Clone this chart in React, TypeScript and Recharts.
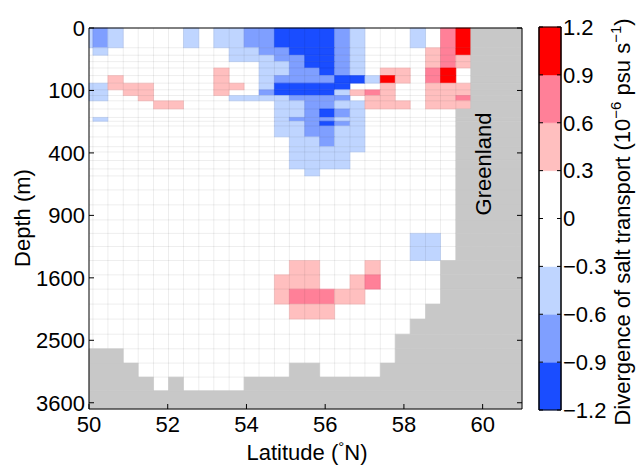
import React from "react";
import { ComposedChart, XAxis, YAxis, ReferenceArea, ReferenceLine } from "recharts";

// cell edges of the section (latitude, °N) and model levels (depth, m)
const latEdges = [
  50, 50.1, 50.48, 50.87, 51.25, 51.64, 52.02, 52.4, 52.79, 53.17, 53.56, 53.94, 54.32, 54.71, 55.09,
  55.48, 55.86, 56.24, 56.63, 57.01, 57.4, 57.78, 58.16, 58.55, 58.93, 59.32, 59.7, 60.08, 60.47, 60.85, 61,
];
const depthEdges = [
  0, 10, 19, 29, 41, 58, 78, 98, 117, 136, 168, 205, 223, 246, 304, 361, 394, 450, 509, 561, 672, 802,
  944, 1081, 1224, 1386, 1562, 1748, 1954, 2172, 2403, 2638, 2878, 3124, 3374, 3721,
];

// one string per depth level, one character per latitude cell
// c/b/a = negative classes, . = near zero, 1/2/3 = positive classes, # = land
const sectionRows = [
  "aba....a.aabbccccba...a.23####",
  ".a........aabbcccba....123####",
  "..........aaabbccba....121####",
  "............aabccba....121####",
  ".........1..aabbcba.11.23.####",
  "..1......1..abbbbcca31.23.####",
  "aa111....11.accccc..1..111####",
  "aa.11....1..bcccca121..111####",
  "aa..1.....aaaabbbb.11..112####",
  ".....11......aabbaa111.111####",
  ".............aabcba......#####",
  ".a...........abbbaa......#####",
  ".............aabcba......#####",
  ".............aabbaa......#####",
  "..............aabaa......#####",
  "..............aaaaa......#####",
  "..............aaaa.......#####",
  "..............aaaa.......#####",
  "...............a.........#####",
  ".........................#####",
  ".........................#####",
  ".........................#####",
  ".........................#####",
  "......................aa.#####",
  "......................aa.#####",
  "..............11...1....######",
  ".............111..12....######",
  ".............122211.....######",
  "..............111......#######",
  "......................########",
  ".....................#########",
  "###..................#########",
  "####..........##....##########",
  "#####.#....###################",
  "##############################",
];

const codeValues: Record<string, number> = {
  c: -1.05,
  b: -0.75,
  a: -0.45,
  ".": 0,
  "1": 0.45,
  "2": 0.75,
  "3": 1.05,
};

const cbEdges = [-1.2, -0.9, -0.6, -0.3, 0.3, 0.6, 0.9, 1.2];
const cbColors = ["#1a4dff", "#7f9fff", "#bfd5ff", "#ffffff", "#ffbfbf", "#ff8098", "#ff0000"];
const cbTicks = [-1.2, -0.9, -0.6, -0.3, 0, 0.3, 0.6, 0.9, 1.2];
const latTicks = [50, 52, 54, 56, 58, 60];
const depthTicks = [0, 100, 400, 900, 1600, 2500, 3600];

const LAND = "#c8c8c8";
const FONT = "'Liberation Sans', Arial, Helvetica, sans-serif";

const colorFor = (v: number) => {
  for (let i = 0; i < cbColors.length; i++) {
    if (v >= cbEdges[i] && v < cbEdges[i + 1]) return cbColors[i];
  }
  return v < 0 ? cbColors[0] : cbColors[cbColors.length - 1];
};

type Run = { x1: number; x2: number; y1: number; y2: number; code: string };
const runs: Run[] = [];
sectionRows.forEach((row, r) => {
  let j = 0;
  while (j < row.length) {
    let k = j;
    while (k + 1 < row.length && row[k + 1] === row[j]) k++;
    runs.push({ x1: latEdges[j], x2: latEdges[k + 1], y1: depthEdges[r], y2: depthEdges[r + 1], code: row[j] });
    j = k + 1;
  }
});
const waterRuns = runs.filter((c) => c.code !== "." && c.code !== "#");
const landRuns = runs.filter((c) => c.code === "#");

const tickStyle = { fontSize: 22, fill: "#000", fontFamily: FONT };
const cbLabel = (v: number) => (v === 0 ? "0" : v.toFixed(1).replace("-", "\u2212"));

const App: React.FC = () => {
  return (
    <div style={{ position: "absolute", left: 0, top: 0, width: 638, height: 465, fontFamily: FONT }}>
      <div style={{ position: "absolute", left: 0, top: 0 }}>
        <ComposedChart width={638} height={465} margin={{ top: 27, right: 115, bottom: 0, left: 0 }}>
          <XAxis
            type="number"
            dataKey="lat"
            domain={[50, 61]}
            ticks={latTicks}
            interval={0}
            allowDataOverflow
            height={56}
            tickSize={-5}
            tickMargin={12}
            tick={tickStyle}
            stroke="#000"
          />
          <XAxis
            xAxisId="top"
            orientation="top"
            type="number"
            domain={[50, 61]}
            ticks={latTicks}
            interval={0}
            allowDataOverflow
            height={1}
            tickSize={-5}
            tickFormatter={() => ""}
            stroke="#000"
          />
          <YAxis
            type="number"
            dataKey="depth"
            scale="sqrt"
            domain={[0, 3721]}
            reversed
            ticks={depthTicks}
            interval={0}
            allowDataOverflow
            width={89}
            tickSize={-5}
            tickMargin={9}
            tick={tickStyle}
            stroke="#000"
          />
          <YAxis
            yAxisId="right"
            orientation="right"
            type="number"
            scale="sqrt"
            domain={[0, 3721]}
            reversed
            ticks={depthTicks}
            interval={0}
            allowDataOverflow
            width={1}
            tickSize={-5}
            tickFormatter={() => ""}
            stroke="#000"
          />
          {waterRuns.map((c, i) => (
            <ReferenceArea
              key={`w${i}`}
              x1={c.x1}
              x2={c.x2}
              y1={c.y1}
              y2={c.y2}
              fill={colorFor(codeValues[c.code])}
              fillOpacity={1}
              stroke={colorFor(codeValues[c.code])}
              strokeWidth={0.6}
              zIndex={100}
            />
          ))}
          {latEdges.slice(1, -1).map((x) => (
            <ReferenceLine key={`vx${x}`} x={x} stroke="#000" strokeOpacity={0.07} zIndex={110} />
          ))}
          {depthEdges.slice(1, -1).map((y) => (
            <ReferenceLine key={`hy${y}`} y={y} stroke="#000" strokeOpacity={0.07} zIndex={110} />
          ))}
          {landRuns.map((c, i) => (
            <ReferenceArea
              key={`l${i}`}
              x1={c.x1}
              x2={c.x2}
              y1={c.y1}
              y2={c.y2}
              fill={LAND}
              fillOpacity={1}
              stroke={LAND}
              strokeWidth={0.6}
              zIndex={120}
            />
          ))}
        </ComposedChart>
      </div>

      <div style={{ position: "absolute", left: 538, top: 0 }}>
        <ComposedChart width={100} height={465} margin={{ top: 27, right: 0, bottom: 55, left: 0 }}>
          <XAxis type="number" dataKey="x" domain={[0, 1]} allowDataOverflow hide />
          <YAxis
            type="number"
            domain={[-1.2, 1.2]}
            ticks={cbTicks}
            interval={0}
            allowDataOverflow
            width={1}
            tickSize={-4}
            tickFormatter={() => ""}
            stroke="#000"
          />
          <YAxis
            yAxisId="r"
            orientation="right"
            type="number"
            domain={[-1.2, 1.2]}
            ticks={cbTicks}
            interval={0}
            allowDataOverflow
            width={77}
            tickSize={-4}
            tickMargin={6}
            tick={tickStyle}
            tickFormatter={cbLabel}
            stroke="#000"
          />
          {cbColors.map((col, i) => (
            <ReferenceArea
              key={`cb${i}`}
              x1={0}
              x2={1}
              y1={cbEdges[i]}
              y2={cbEdges[i + 1]}
              fill={col}
              fillOpacity={1}
              stroke={col}
              strokeWidth={0.5}
              zIndex={100}
            />
          ))}
          <ReferenceArea x1={0} x2={1} y1={-1.2} y2={1.2} fill="none" stroke="#000" strokeWidth={1} zIndex={130} />
        </ComposedChart>
      </div>

      <svg
        width={638}
        height={465}
        style={{ position: "absolute", left: 0, top: 0, pointerEvents: "none" }}
        fontFamily={FONT}
        fontSize={22}
        fill="#000"
      >
        <text x={30} y={218} textAnchor="middle" transform="rotate(-90 30 218)">
          Depth (m)
        </text>
        <text x={307} y={460} textAnchor="middle">
          Latitude (<tspan dy={-8} fontSize={15}>°</tspan>
          <tspan dy={8}>N)</tspan>
        </text>
        <text x={491} y={164} textAnchor="middle" transform="rotate(-90 491 164)">
          Greenland
        </text>
        <text x={630} y={222} textAnchor="middle" transform="rotate(-90 630 222)">
          Divergence of salt transport (10
          <tspan dy={-9} fontSize={15}>
            {"\u22126"}
          </tspan>
          <tspan dy={9}> psu s</tspan>
          <tspan dy={-9} fontSize={15}>
            {"\u22121"}
          </tspan>
          <tspan dy={9}>)</tspan>
        </text>
      </svg>
    </div>
  );
};

export default App;
